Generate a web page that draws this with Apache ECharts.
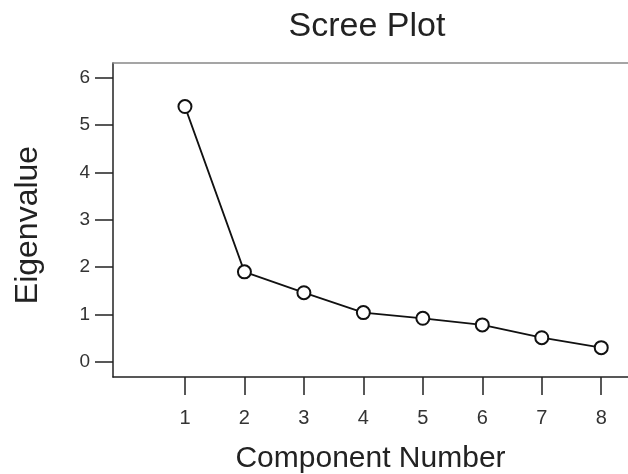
<!DOCTYPE html>
<html>
<head>
<meta charset="utf-8">
<script src="https://cdn.jsdelivr.net/npm/echarts@6/dist/echarts.min.js"></script>
<style>html,body{margin:0;padding:0;background:#fff}#c{width:628px;height:474px}</style>
</head>
<body>
<div id="c"></div>
<script>
var components = [1, 2, 3, 4, 5, 6, 7, 8];
var eigenvalues = [5.39, 1.90, 1.46, 1.04, 0.92, 0.78, 0.51, 0.30];
var xTicks = [1, 2, 3, 4, 5, 6, 7, 8];
var yTicks = [0, 1, 2, 3, 4, 5, 6];

var font = '"Liberation Sans", Arial, sans-serif';
var chart = echarts.init(document.getElementById('c'), null, {renderer: 'canvas'});
chart.setOption({
  animation: false,
  backgroundColor: '#fff',
  title: {
    text: 'Scree Plot',
    left: 367, top: 10, padding: 0,
    textAlign: 'center',
    textStyle: {fontFamily: font, fontSize: 34, fontWeight: 'normal', color: '#222'}
  },
  grid: {left: 113, right: 0, top: 63, bottom: 97, containLabel: false, outerBoundsMode: 'none'},
  xAxis: [{
    type: 'value', min: -0.21, max: 8.45,
    name: 'Component Number', nameLocation: 'middle', nameGap: 67,
    nameTextStyle: {fontFamily: font, fontSize: 30, color: '#222'},
    splitLine: {show: false},
    axisLine: {show: true, onZero: false, lineStyle: {color: '#222', width: 1.5}},
    axisTick: {show: true, inside: false, length: 18, customValues: xTicks, lineStyle: {color: '#222', width: 1.5}},
    axisLabel: {customValues: xTicks, margin: 31, fontFamily: font, fontSize: 20, color: '#333'}
  }, {
    type: 'value', position: 'top', min: -0.21, max: 8.45,
    splitLine: {show: false},
    axisLine: {show: true, onZero: false, lineStyle: {color: '#888', width: 1.5}},
    axisTick: {show: false}, axisLabel: {show: false}
  }],
  yAxis: {
    type: 'value', min: -0.32, max: 6.31,
    name: 'Eigenvalue', nameLocation: 'middle', nameGap: 69,
    nameTextStyle: {fontFamily: font, fontSize: 32, color: '#222', padding: [0, 10, 0, 0]},
    splitLine: {show: false},
    axisLine: {show: true, onZero: false, lineStyle: {color: '#222', width: 1.5}},
    axisTick: {show: true, length: 18, customValues: yTicks, lineStyle: {color: '#222', width: 1.5}},
    axisLabel: {customValues: yTicks, margin: 23, fontFamily: font, fontSize: 19, color: '#333'}
  },
  series: [{
    type: 'line',
    data: components.map(function (c, i) { return [c, eigenvalues[i]]; }),
    symbol: 'emptyCircle', symbolSize: 13,
    lineStyle: {color: '#111', width: 1.8},
    itemStyle: {color: '#111', borderWidth: 1.8}
  }]
});
</script>
</body>
</html>
